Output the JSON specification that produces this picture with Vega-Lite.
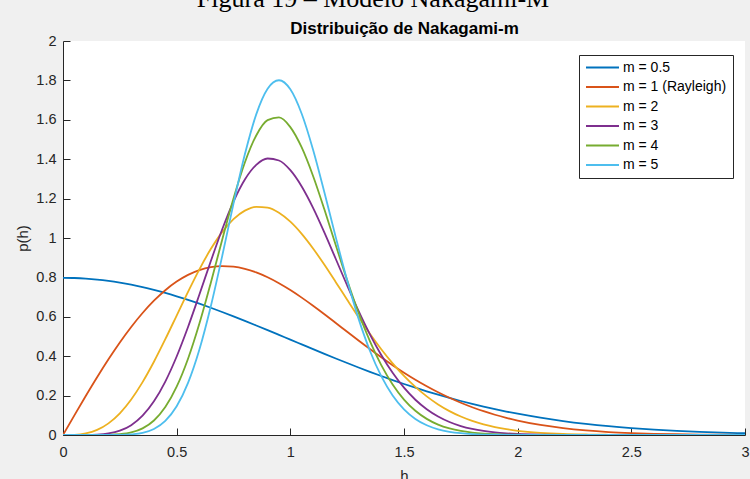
{
  "$schema": "https://vega.github.io/schema/vega-lite/v6.json",
  "width": 682,
  "height": 394,
  "autosize": {"type": "none"},
  "padding": {"left": 63, "top": 41, "right": 5, "bottom": 44},
  "background": "#f0f0f0",
  "title": {
    "text": "Figura 19 – Modelo Nakagami-M",
    "font": "Liberation Serif",
    "fontSize": 26,
    "fontWeight": "normal",
    "color": "black",
    "anchor": "middle",
    "frame": "group",
    "dx": -31,
    "dy": 18,
    "baseline": "alphabetic",
    "offset": 4
  },
  "data": {
    "values": [
      {"m": "m = 0.5", "h": 0, "p": 0.7979},
      {"m": "m = 0.5", "h": 0.05, "p": 0.7969},
      {"m": "m = 0.5", "h": 0.1, "p": 0.7939},
      {"m": "m = 0.5", "h": 0.15, "p": 0.789},
      {"m": "m = 0.5", "h": 0.2, "p": 0.7821},
      {"m": "m = 0.5", "h": 0.25, "p": 0.7733},
      {"m": "m = 0.5", "h": 0.3, "p": 0.7628},
      {"m": "m = 0.5", "h": 0.35, "p": 0.7505},
      {"m": "m = 0.5", "h": 0.4, "p": 0.7365},
      {"m": "m = 0.5", "h": 0.45, "p": 0.7211},
      {"m": "m = 0.5", "h": 0.5, "p": 0.7041},
      {"m": "m = 0.5", "h": 0.55, "p": 0.6859},
      {"m": "m = 0.5", "h": 0.6, "p": 0.6664},
      {"m": "m = 0.5", "h": 0.65, "p": 0.6459},
      {"m": "m = 0.5", "h": 0.7, "p": 0.6245},
      {"m": "m = 0.5", "h": 0.75, "p": 0.6023},
      {"m": "m = 0.5", "h": 0.8, "p": 0.5794},
      {"m": "m = 0.5", "h": 0.85, "p": 0.556},
      {"m": "m = 0.5", "h": 0.9, "p": 0.5322},
      {"m": "m = 0.5", "h": 0.95, "p": 0.5081},
      {"m": "m = 0.5", "h": 1.0, "p": 0.4839},
      {"m": "m = 0.5", "h": 1.05, "p": 0.4598},
      {"m": "m = 0.5", "h": 1.1, "p": 0.4357},
      {"m": "m = 0.5", "h": 1.15, "p": 0.4119},
      {"m": "m = 0.5", "h": 1.2, "p": 0.3884},
      {"m": "m = 0.5", "h": 1.25, "p": 0.3653},
      {"m": "m = 0.5", "h": 1.3, "p": 0.3427},
      {"m": "m = 0.5", "h": 1.35, "p": 0.3208},
      {"m": "m = 0.5", "h": 1.4, "p": 0.2995},
      {"m": "m = 0.5", "h": 1.45, "p": 0.2789},
      {"m": "m = 0.5", "h": 1.5, "p": 0.259},
      {"m": "m = 0.5", "h": 1.55, "p": 0.24},
      {"m": "m = 0.5", "h": 1.6, "p": 0.2218},
      {"m": "m = 0.5", "h": 1.65, "p": 0.2045},
      {"m": "m = 0.5", "h": 1.7, "p": 0.1881},
      {"m": "m = 0.5", "h": 1.75, "p": 0.1726},
      {"m": "m = 0.5", "h": 1.8, "p": 0.1579},
      {"m": "m = 0.5", "h": 1.85, "p": 0.1441},
      {"m": "m = 0.5", "h": 1.9, "p": 0.1312},
      {"m": "m = 0.5", "h": 1.95, "p": 0.1192},
      {"m": "m = 0.5", "h": 2.0, "p": 0.108},
      {"m": "m = 0.5", "h": 2.1, "p": 0.088},
      {"m": "m = 0.5", "h": 2.2, "p": 0.0709},
      {"m": "m = 0.5", "h": 2.3, "p": 0.0567},
      {"m": "m = 0.5", "h": 2.4, "p": 0.0448},
      {"m": "m = 0.5", "h": 2.5, "p": 0.0351},
      {"m": "m = 0.5", "h": 2.6, "p": 0.0272},
      {"m": "m = 0.5", "h": 2.7, "p": 0.0208},
      {"m": "m = 0.5", "h": 2.8, "p": 0.0158},
      {"m": "m = 0.5", "h": 2.9, "p": 0.0119},
      {"m": "m = 0.5", "h": 3.0, "p": 0.0089},

      {"m": "m = 1 (Rayleigh)", "h": 0, "p": 0},
      {"m": "m = 1 (Rayleigh)", "h": 0.05, "p": 0.0998},
      {"m": "m = 1 (Rayleigh)", "h": 0.1, "p": 0.198},
      {"m": "m = 1 (Rayleigh)", "h": 0.15, "p": 0.2933},
      {"m": "m = 1 (Rayleigh)", "h": 0.2, "p": 0.3843},
      {"m": "m = 1 (Rayleigh)", "h": 0.25, "p": 0.4697},
      {"m": "m = 1 (Rayleigh)", "h": 0.3, "p": 0.5484},
      {"m": "m = 1 (Rayleigh)", "h": 0.35, "p": 0.6193},
      {"m": "m = 1 (Rayleigh)", "h": 0.4, "p": 0.6817},
      {"m": "m = 1 (Rayleigh)", "h": 0.45, "p": 0.735},
      {"m": "m = 1 (Rayleigh)", "h": 0.5, "p": 0.7788},
      {"m": "m = 1 (Rayleigh)", "h": 0.55, "p": 0.8129},
      {"m": "m = 1 (Rayleigh)", "h": 0.6, "p": 0.8372},
      {"m": "m = 1 (Rayleigh)", "h": 0.65, "p": 0.852},
      {"m": "m = 1 (Rayleigh)", "h": 0.7, "p": 0.8577},
      {"m": "m = 1 (Rayleigh)", "h": 0.75, "p": 0.8547},
      {"m": "m = 1 (Rayleigh)", "h": 0.8, "p": 0.8437},
      {"m": "m = 1 (Rayleigh)", "h": 0.85, "p": 0.8254},
      {"m": "m = 1 (Rayleigh)", "h": 0.9, "p": 0.8007},
      {"m": "m = 1 (Rayleigh)", "h": 0.95, "p": 0.7705},
      {"m": "m = 1 (Rayleigh)", "h": 1.0, "p": 0.7358},
      {"m": "m = 1 (Rayleigh)", "h": 1.05, "p": 0.6973},
      {"m": "m = 1 (Rayleigh)", "h": 1.1, "p": 0.656},
      {"m": "m = 1 (Rayleigh)", "h": 1.15, "p": 0.6129},
      {"m": "m = 1 (Rayleigh)", "h": 1.2, "p": 0.5686},
      {"m": "m = 1 (Rayleigh)", "h": 1.25, "p": 0.524},
      {"m": "m = 1 (Rayleigh)", "h": 1.3, "p": 0.4798},
      {"m": "m = 1 (Rayleigh)", "h": 1.35, "p": 0.4364},
      {"m": "m = 1 (Rayleigh)", "h": 1.4, "p": 0.3944},
      {"m": "m = 1 (Rayleigh)", "h": 1.45, "p": 0.3542},
      {"m": "m = 1 (Rayleigh)", "h": 1.5, "p": 0.3162},
      {"m": "m = 1 (Rayleigh)", "h": 1.55, "p": 0.2805},
      {"m": "m = 1 (Rayleigh)", "h": 1.6, "p": 0.2474},
      {"m": "m = 1 (Rayleigh)", "h": 1.65, "p": 0.2168},
      {"m": "m = 1 (Rayleigh)", "h": 1.7, "p": 0.189},
      {"m": "m = 1 (Rayleigh)", "h": 1.75, "p": 0.1637},
      {"m": "m = 1 (Rayleigh)", "h": 1.8, "p": 0.141},
      {"m": "m = 1 (Rayleigh)", "h": 1.85, "p": 0.1207},
      {"m": "m = 1 (Rayleigh)", "h": 1.9, "p": 0.1028},
      {"m": "m = 1 (Rayleigh)", "h": 1.95, "p": 0.087},
      {"m": "m = 1 (Rayleigh)", "h": 2.0, "p": 0.0733},
      {"m": "m = 1 (Rayleigh)", "h": 2.1, "p": 0.051},
      {"m": "m = 1 (Rayleigh)", "h": 2.2, "p": 0.0348},
      {"m": "m = 1 (Rayleigh)", "h": 2.3, "p": 0.0232},
      {"m": "m = 1 (Rayleigh)", "h": 2.4, "p": 0.0151},
      {"m": "m = 1 (Rayleigh)", "h": 2.5, "p": 0.0097},
      {"m": "m = 1 (Rayleigh)", "h": 2.6, "p": 0.006},
      {"m": "m = 1 (Rayleigh)", "h": 2.7, "p": 0.0037},
      {"m": "m = 1 (Rayleigh)", "h": 2.8, "p": 0.0022},
      {"m": "m = 1 (Rayleigh)", "h": 2.9, "p": 0.0013},
      {"m": "m = 1 (Rayleigh)", "h": 3.0, "p": 0.0007},

      {"m": "m = 2", "h": 0, "p": 0},
      {"m": "m = 2", "h": 0.05, "p": 0.001},
      {"m": "m = 2", "h": 0.1, "p": 0.0078},
      {"m": "m = 2", "h": 0.15, "p": 0.0258},
      {"m": "m = 2", "h": 0.2, "p": 0.0591},
      {"m": "m = 2", "h": 0.25, "p": 0.1103},
      {"m": "m = 2", "h": 0.3, "p": 0.1804},
      {"m": "m = 2", "h": 0.35, "p": 0.2685},
      {"m": "m = 2", "h": 0.4, "p": 0.3718},
      {"m": "m = 2", "h": 0.45, "p": 0.4862},
      {"m": "m = 2", "h": 0.5, "p": 0.6065},
      {"m": "m = 2", "h": 0.55, "p": 0.7268},
      {"m": "m = 2", "h": 0.6, "p": 0.8411},
      {"m": "m = 2", "h": 0.65, "p": 0.9438},
      {"m": "m = 2", "h": 0.7, "p": 1.0299},
      {"m": "m = 2", "h": 0.75, "p": 1.0957},
      {"m": "m = 2", "h": 0.8, "p": 1.1388},
      {"m": "m = 2", "h": 0.85, "p": 1.1583},
      {"m": "m = 2", "h": 0.9, "p": 1.1542},
      {"m": "m = 2", "h": 0.95, "p": 1.1281},
      {"m": "m = 2", "h": 1.0, "p": 1.0827},
      {"m": "m = 2", "h": 1.05, "p": 1.021},
      {"m": "m = 2", "h": 1.1, "p": 0.9468},
      {"m": "m = 2", "h": 1.15, "p": 0.8639},
      {"m": "m = 2", "h": 1.2, "p": 0.7759},
      {"m": "m = 2", "h": 1.25, "p": 0.6866},
      {"m": "m = 2", "h": 1.3, "p": 0.5985},
      {"m": "m = 2", "h": 1.35, "p": 0.5141},
      {"m": "m = 2", "h": 1.4, "p": 0.4355},
      {"m": "m = 2", "h": 1.45, "p": 0.3639},
      {"m": "m = 2", "h": 1.5, "p": 0.3},
      {"m": "m = 2", "h": 1.55, "p": 0.244},
      {"m": "m = 2", "h": 1.6, "p": 0.196},
      {"m": "m = 2", "h": 1.65, "p": 0.1552},
      {"m": "m = 2", "h": 1.7, "p": 0.1214},
      {"m": "m = 2", "h": 1.75, "p": 0.0939},
      {"m": "m = 2", "h": 1.8, "p": 0.0716},
      {"m": "m = 2", "h": 1.85, "p": 0.0539},
      {"m": "m = 2", "h": 1.9, "p": 0.0402},
      {"m": "m = 2", "h": 1.95, "p": 0.0295},
      {"m": "m = 2", "h": 2.0, "p": 0.0214},
      {"m": "m = 2", "h": 2.1, "p": 0.011},
      {"m": "m = 2", "h": 2.2, "p": 0.0053},
      {"m": "m = 2", "h": 2.3, "p": 0.0025},
      {"m": "m = 2", "h": 2.4, "p": 0.0011},
      {"m": "m = 2", "h": 2.5, "p": 0.0005},
      {"m": "m = 2", "h": 2.6, "p": 0.0002},
      {"m": "m = 2", "h": 2.7, "p": 0.0001},
      {"m": "m = 2", "h": 2.8, "p": 0},
      {"m": "m = 2", "h": 3.0, "p": 0},

      {"m": "m = 3", "h": 0, "p": 0},
      {"m": "m = 3", "h": 0.05, "p": 0},
      {"m": "m = 3", "h": 0.1, "p": 0.0003},
      {"m": "m = 3", "h": 0.15, "p": 0.0019},
      {"m": "m = 3", "h": 0.2, "p": 0.0077},
      {"m": "m = 3", "h": 0.25, "p": 0.0219},
      {"m": "m = 3", "h": 0.3, "p": 0.0501},
      {"m": "m = 3", "h": 0.35, "p": 0.0982},
      {"m": "m = 3", "h": 0.4, "p": 0.1711},
      {"m": "m = 3", "h": 0.45, "p": 0.2714},
      {"m": "m = 3", "h": 0.5, "p": 0.3986},
      {"m": "m = 3", "h": 0.55, "p": 0.5483},
      {"m": "m = 3", "h": 0.6, "p": 0.713},
      {"m": "m = 3", "h": 0.65, "p": 0.882},
      {"m": "m = 3", "h": 0.7, "p": 1.0434},
      {"m": "m = 3", "h": 0.75, "p": 1.1852},
      {"m": "m = 3", "h": 0.8, "p": 1.2971},
      {"m": "m = 3", "h": 0.85, "p": 1.3714},
      {"m": "m = 3", "h": 0.9, "p": 1.4036},
      {"m": "m = 3", "h": 0.95, "p": 1.3935},
      {"m": "m = 3", "h": 1.0, "p": 1.3443},
      {"m": "m = 3", "h": 1.05, "p": 1.2616},
      {"m": "m = 3", "h": 1.1, "p": 1.1532},
      {"m": "m = 3", "h": 1.15, "p": 1.0275},
      {"m": "m = 3", "h": 1.2, "p": 0.8935},
      {"m": "m = 3", "h": 1.25, "p": 0.7589},
      {"m": "m = 3", "h": 1.3, "p": 0.6296},
      {"m": "m = 3", "h": 1.35, "p": 0.5109},
      {"m": "m = 3", "h": 1.4, "p": 0.4059},
      {"m": "m = 3", "h": 1.45, "p": 0.3155},
      {"m": "m = 3", "h": 1.5, "p": 0.2401},
      {"m": "m = 3", "h": 1.55, "p": 0.179},
      {"m": "m = 3", "h": 1.6, "p": 0.1308},
      {"m": "m = 3", "h": 1.65, "p": 0.0938},
      {"m": "m = 3", "h": 1.7, "p": 0.0659},
      {"m": "m = 3", "h": 1.75, "p": 0.0452},
      {"m": "m = 3", "h": 1.8, "p": 0.0307},
      {"m": "m = 3", "h": 1.85, "p": 0.0204},
      {"m": "m = 3", "h": 1.9, "p": 0.0132},
      {"m": "m = 3", "h": 1.95, "p": 0.0085},
      {"m": "m = 3", "h": 2.0, "p": 0.0053},
      {"m": "m = 3", "h": 2.1, "p": 0.002},
      {"m": "m = 3", "h": 2.2, "p": 0.0007},
      {"m": "m = 3", "h": 2.3, "p": 0.0002},
      {"m": "m = 3", "h": 2.4, "p": 0},
      {"m": "m = 3", "h": 3.0, "p": 0},

      {"m": "m = 4", "h": 0, "p": 0},
      {"m": "m = 4", "h": 0.1, "p": 0},
      {"m": "m = 4", "h": 0.15, "p": 0.0001},
      {"m": "m = 4", "h": 0.2, "p": 0.0009},
      {"m": "m = 4", "h": 0.25, "p": 0.0041},
      {"m": "m = 4", "h": 0.3, "p": 0.013},
      {"m": "m = 4", "h": 0.35, "p": 0.0336},
      {"m": "m = 4", "h": 0.4, "p": 0.0737},
      {"m": "m = 4", "h": 0.45, "p": 0.1418},
      {"m": "m = 4", "h": 0.5, "p": 0.2453},
      {"m": "m = 4", "h": 0.55, "p": 0.3874},
      {"m": "m = 4", "h": 0.6, "p": 0.566},
      {"m": "m = 4", "h": 0.65, "p": 0.7719},
      {"m": "m = 4", "h": 0.7, "p": 0.9899},
      {"m": "m = 4", "h": 0.75, "p": 1.2006},
      {"m": "m = 4", "h": 0.8, "p": 1.3833},
      {"m": "m = 4", "h": 0.85, "p": 1.5205},
      {"m": "m = 4", "h": 0.9, "p": 1.5983},
      {"m": "m = 4", "h": 0.95, "p": 1.612},
      {"m": "m = 4", "h": 1.0, "p": 1.563},
      {"m": "m = 4", "h": 1.05, "p": 1.4595},
      {"m": "m = 4", "h": 1.1, "p": 1.3149},
      {"m": "m = 4", "h": 1.15, "p": 1.1444},
      {"m": "m = 4", "h": 1.2, "p": 0.9635},
      {"m": "m = 4", "h": 1.25, "p": 0.7855},
      {"m": "m = 4", "h": 1.3, "p": 0.6206},
      {"m": "m = 4", "h": 1.35, "p": 0.4763},
      {"m": "m = 4", "h": 1.4, "p": 0.3544},
      {"m": "m = 4", "h": 1.45, "p": 0.2564},
      {"m": "m = 4", "h": 1.5, "p": 0.1799},
      {"m": "m = 4", "h": 1.55, "p": 0.1229},
      {"m": "m = 4", "h": 1.6, "p": 0.0818},
      {"m": "m = 4", "h": 1.65, "p": 0.0528},
      {"m": "m = 4", "h": 1.7, "p": 0.0334},
      {"m": "m = 4", "h": 1.75, "p": 0.0205},
      {"m": "m = 4", "h": 1.8, "p": 0.0123},
      {"m": "m = 4", "h": 1.85, "p": 0.0072},
      {"m": "m = 4", "h": 1.9, "p": 0.0041},
      {"m": "m = 4", "h": 1.95, "p": 0.0023},
      {"m": "m = 4", "h": 2.0, "p": 0.0012},
      {"m": "m = 4", "h": 2.1, "p": 0.0003},
      {"m": "m = 4", "h": 2.2, "p": 0},
      {"m": "m = 4", "h": 3.0, "p": 0},

      {"m": "m = 5", "h": 0, "p": 0},
      {"m": "m = 5", "h": 0.15, "p": 0},
      {"m": "m = 5", "h": 0.2, "p": 0.0001},
      {"m": "m = 5", "h": 0.25, "p": 0.0007},
      {"m": "m = 5", "h": 0.3, "p": 0.0033},
      {"m": "m = 5", "h": 0.35, "p": 0.0111},
      {"m": "m = 5", "h": 0.4, "p": 0.0307},
      {"m": "m = 5", "h": 0.45, "p": 0.0716},
      {"m": "m = 5", "h": 0.5, "p": 0.1457},
      {"m": "m = 5", "h": 0.55, "p": 0.2643},
      {"m": "m = 5", "h": 0.6, "p": 0.4338},
      {"m": "m = 5", "h": 0.65, "p": 0.6523},
      {"m": "m = 5", "h": 0.7, "p": 0.9068},
      {"m": "m = 5", "h": 0.75, "p": 1.1743},
      {"m": "m = 5", "h": 0.8, "p": 1.4247},
      {"m": "m = 5", "h": 0.85, "p": 1.6276},
      {"m": "m = 5", "h": 0.9, "p": 1.7577},
      {"m": "m = 5", "h": 0.95, "p": 1.8007},
      {"m": "m = 5", "h": 1.0, "p": 1.7547},
      {"m": "m = 5", "h": 1.05, "p": 1.6305},
      {"m": "m = 5", "h": 1.1, "p": 1.4479},
      {"m": "m = 5", "h": 1.15, "p": 1.2308},
      {"m": "m = 5", "h": 1.2, "p": 1.0032},
      {"m": "m = 5", "h": 1.25, "p": 0.7851},
      {"m": "m = 5", "h": 1.3, "p": 0.5907},
      {"m": "m = 5", "h": 1.35, "p": 0.4277},
      {"m": "m = 5", "h": 1.4, "p": 0.2984},
      {"m": "m = 5", "h": 1.45, "p": 0.2007},
      {"m": "m = 5", "h": 1.5, "p": 0.1302},
      {"m": "m = 5", "h": 1.55, "p": 0.0816},
      {"m": "m = 5", "h": 1.6, "p": 0.0494},
      {"m": "m = 5", "h": 1.65, "p": 0.0289},
      {"m": "m = 5", "h": 1.7, "p": 0.0164},
      {"m": "m = 5", "h": 1.75, "p": 0.009},
      {"m": "m = 5", "h": 1.8, "p": 0.0048},
      {"m": "m = 5", "h": 1.85, "p": 0.0024},
      {"m": "m = 5", "h": 1.9, "p": 0.0012},
      {"m": "m = 5", "h": 1.95, "p": 0.0006},
      {"m": "m = 5", "h": 2.0, "p": 0.0003},
      {"m": "m = 5", "h": 2.1, "p": 0},
      {"m": "m = 5", "h": 3.0, "p": 0}
    ]
  },
  "layer": [
    {
      "mark": {"type": "line", "strokeWidth": 1.8, "interpolate": "monotone", "clip": true},
      "encoding": {
        "x": {
          "field": "h",
          "type": "quantitative",
          "scale": {"domain": [0, 3], "nice": false},
          "axis": {
            "orient": "bottom",
            "title": "h",
            "values": [0, 0.5, 1, 1.5, 2, 2.5, 3],
            "format": "~g",
            "labelFlush": false,
            "labelOverlap": false,
            "tickSize": -7,
            "labelPadding": 17,
            "titlePadding": 10
          }
        },
        "y": {
          "field": "p",
          "type": "quantitative",
          "scale": {"domain": [0, 2], "nice": false},
          "axis": {
            "title": "p(h)",
            "values": [0, 0.2, 0.4, 0.6, 0.8, 1, 1.2, 1.4, 1.6, 1.8, 2],
            "format": "~g",
            "labelFlush": false,
            "labelOverlap": false,
            "tickSize": -7,
            "labelPadding": 14,
            "titlePadding": 5
          }
        },
        "color": {
          "field": "m",
          "type": "nominal",
          "scale": {
            "domain": ["m = 0.5", "m = 1 (Rayleigh)", "m = 2", "m = 3", "m = 4", "m = 5"],
            "range": ["#0072BD", "#D95319", "#EDB120", "#7E2F8E", "#77AC30", "#4DBEEE"]
          },
          "legend": {"title": null}
        }
      }
    },
    {
      "mark": {"type": "line", "opacity": 0},
      "encoding": {
        "x": {
          "field": "h",
          "type": "quantitative",
          "scale": {"domain": [0, 3], "nice": false},
          "axis": {
            "orient": "top",
            "title": "Distribuição de Nakagami-m",
            "labels": false,
            "ticks": false,
            "domain": false,
            "titleFont": "Liberation Sans",
            "titleFontSize": 17,
            "titleFontWeight": "bold",
            "titleColor": "black",
            "titleX": 341,
            "titleY": -8,
            "titleAlign": "center",
            "titleBaseline": "alphabetic"
          }
        },
        "y": {"field": "p", "type": "quantitative", "scale": {"domain": [0, 2], "nice": false}, "axis": null},
        "detail": {"field": "m"}
      }
    }
  ],
  "resolve": {"axis": {"x": "independent", "y": "independent"}},
  "config": {
    "view": {"fill": "white", "stroke": null},
    "axis": {
      "domainColor": "#262626",
      "tickColor": "#262626",
      "labelColor": "#262626",
      "titleColor": "#262626",
      "labelFont": "Liberation Sans",
      "titleFont": "Liberation Sans",
      "labelFontSize": 14.5,
      "titleFontSize": 15,
      "titleFontWeight": "normal",
      "grid": false,
      "domainWidth": 1,
      "tickWidth": 1
    },
    "legend": {
      "orient": "none",
      "legendX": 516,
      "legendY": 14,
      "fillColor": "white",
      "strokeColor": "#262626",
      "strokeWidth": 1,
      "padding": 6,
      "symbolType": "stroke",
      "symbolSize": 1089,
      "symbolStrokeWidth": 2,
      "clipHeight": 13,
      "rowPadding": 4.5,
      "labelFont": "Liberation Sans",
      "labelFontSize": 14,
      "labelColor": "black",
      "labelOffset": 3
    }
  }
}
